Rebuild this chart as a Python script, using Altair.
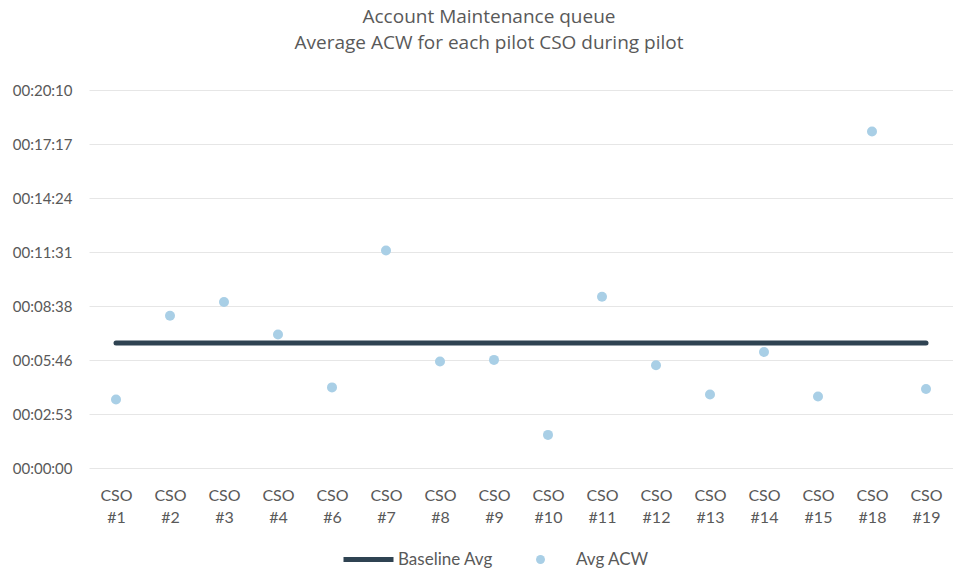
import altair as alt
import pandas as pd

# Pilot CSOs on the x axis
csos = ["CSO #1", "CSO #2", "CSO #3", "CSO #4", "CSO #6", "CSO #7", "CSO #8", "CSO #9",
        "CSO #10", "CSO #11", "CSO #12", "CSO #13", "CSO #14", "CSO #15", "CSO #18", "CSO #19"]

# Average after-call work per CSO during the pilot, in seconds
avg_acw_sec = [219, 487, 531, 427, 258, 696, 341, 346, 106, 548, 329, 235, 371, 229, 1077, 253]

# Baseline average ACW (seconds), same for every CSO
baseline_sec = 400

# Y tick positions in seconds (steps of 0.002 day)
y_ticks = [0, 172.8, 345.6, 518.4, 691.2, 864, 1036.8, 1209.6]

FONT = "Lato"
TITLE_FONT = "Open Sans"
TEXT = "#595959"

df = pd.DataFrame({
    "cso": csos,
    "acw": avg_acw_sec,
    "baseline": [baseline_sec] * len(csos),
    "acw_series": ["Avg ACW"] * len(csos),
    "base_series": ["Baseline Avg"] * len(csos),
})

x_enc = alt.X(
    "cso:N", sort=csos, title=None,
    scale=alt.Scale(paddingInner=0, paddingOuter=0),
    axis=alt.Axis(labelExpr="split(datum.label, ' ')", labelAngle=0, ticks=False,
                  domain=False, grid=False, labelFont=FONT, labelFontSize=16,
                  labelColor=TEXT, labelLineHeight=22, labelPadding=19),
)

y_scale = alt.Scale(domain=[0, 1209.6], nice=False, zero=True)
y_axis = alt.Axis(values=y_ticks, labelExpr="utcFormat(round(datum.value) * 1000, '%H:%M:%S')",
                  ticks=False, domain=False, grid=True, gridColor="#e6e6e6", gridWidth=1,
                  labelFont=FONT, labelFontSize=15, labelColor=TEXT, labelPadding=17,
                  title=None)

baseline = alt.Chart(df).mark_line(strokeWidth=5, strokeCap="round").encode(
    x=x_enc,
    y=alt.Y("baseline:Q", scale=y_scale, axis=y_axis),
    stroke=alt.Stroke(
        "base_series:N", title=None,
        scale=alt.Scale(domain=["Baseline Avg"], range=["#2f4352"]),
        legend=alt.Legend(orient="none", legendX=252, legendY=442, symbolType="stroke",
                          symbolSize=2500, symbolStrokeWidth=5, labelOffset=2,
                          labelFont=FONT, labelFontSize=17, labelColor=TEXT),
    ),
)

points = alt.Chart(df).mark_circle(size=100, opacity=1).encode(
    x=alt.X("cso:N", sort=csos),
    y=alt.Y("acw:Q", scale=y_scale),
    fill=alt.Fill(
        "acw_series:N", title=None,
        scale=alt.Scale(domain=["Avg ACW"], range=["#a9cfe6"]),
        legend=alt.Legend(orient="none", legendX=443, legendY=461, symbolType="circle",
                          symbolSize=80, symbolOpacity=1, labelOffset=27,
                          labelFont=FONT, labelFontSize=17, labelColor=TEXT),
    ),
)

chart = alt.layer(baseline, points).resolve_scale(
    stroke="independent", fill="independent"
).properties(
    width=864,
    height=378,
    background="white",
    title=alt.TitleParams(
        ["Account Maintenance queue", "Average ACW for each pilot CSO during pilot"],
        anchor="middle", frame="group", dx=-32, fontSize=19, font=TITLE_FONT,
        fontWeight="normal", color=TEXT, lineHeight=26.5, offset=30,
    ),
    autosize=alt.AutoSizeParams(type="none"),
    padding={"left": 89, "top": 90, "right": 0, "bottom": 107},
).configure_view(stroke=None)

chart.save("out.html", embed_options={"renderer": "svg", "actions": False})
